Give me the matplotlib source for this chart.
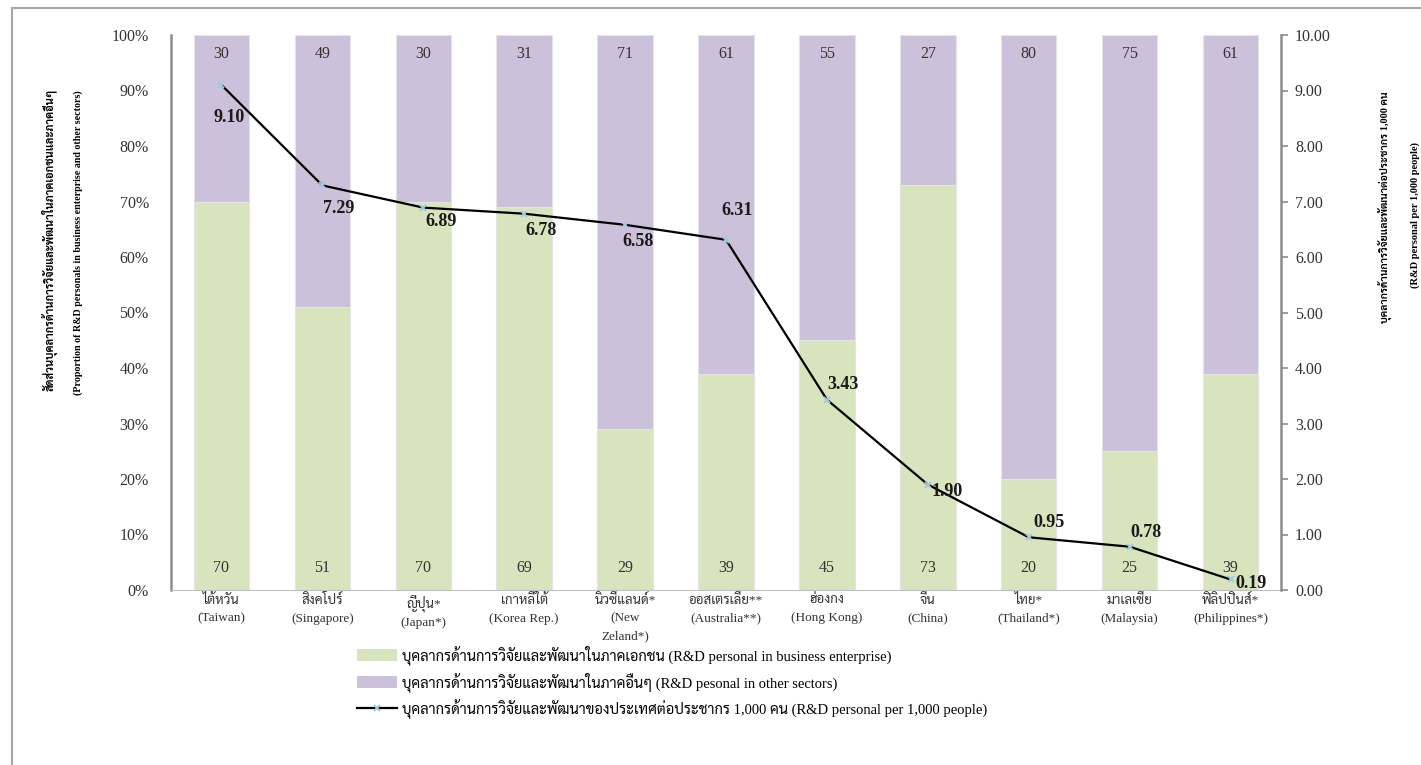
import numpy as np
import matplotlib
matplotlib.use('Agg')
import matplotlib.pyplot as plt
from matplotlib.patches import Patch
from matplotlib.lines import Line2D

plt.rcParams['font.family'] = ['Liberation Serif', 'Sarabun', 'Noto Serif Thai', 'Noto Sans Thai', 'Athiti', 'DejaVu Sans']

paises = ['ไต้หวัน\n(Taiwan)', 'สิงคโปร์\n(Singapore)', 'ญี่ปุ่น*\n(Japan*)', 'เกาหลีใต้\n(Korea Rep.)',
          'นิวซีแลนด์*\n(New\nZeland*)', 'ออสเตรเลีย**\n(Australia**)', 'ฮ่องกง\n(Hong Kong)', 'จีน\n(China)',
          'ไทย*\n(Thailand*)', 'มาเลเซีย\n(Malaysia)', 'ฟิลิปปินส์*\n(Philippines*)']
privado = [70, 51, 70, 69, 29, 39, 45, 73, 20, 25, 39]
otros = [30, 49, 30, 31, 71, 61, 55, 27, 80, 75, 61]
por_mil = [9.10, 7.29, 6.89, 6.78, 6.58, 6.31, 3.43, 1.90, 0.95, 0.78, 0.19]

# desplazamiento de las etiquetas de la linea (pixeles)
offsets = [(8, -33), (16, -23), (18, -14), (17, -17), (13, -17), (11, 29),
           (16, 15), (19, -7), (20, 15), (16, 14), (20, -4)]

verde = '#d7e4bd'
morado = '#ccc1da'

fig = plt.figure(figsize=(14.21, 7.65), dpi=100)
ax = fig.add_axes([171/1421, 1 - 590/765, (1281 - 171)/1421, (590 - 35)/765])
ax2 = ax.twinx()

x = np.arange(len(paises))
ax.bar(x, privado, width=0.55, color=verde, edgecolor='#e4e4e4', linewidth=0.8, zorder=2)
ax.bar(x, otros, width=0.55, bottom=privado, color=morado, edgecolor='#e4e4e4', linewidth=0.8, zorder=2)

for i in range(len(paises)):
    ax.text(x[i], 0.965, str(otros[i]), transform=ax.get_xaxis_transform(),
            ha='center', va='center', fontsize=11.5, color='#333333')
    ax.text(x[i], 0.04, str(privado[i]), transform=ax.get_xaxis_transform(),
            ha='center', va='center', fontsize=11.5, color='#333333')

ax.set_xlim(-0.5, len(paises) - 0.5)
ax.set_ylim(0, 100)
ax.set_yticks(np.arange(0, 101, 10))
ax.set_yticklabels(['%d%%' % v for v in range(0, 101, 10)])
ax.tick_params(axis='y', length=0, pad=16, labelsize=11.5, labelcolor='#333333')
ax.set_xticks(x)
ax.set_xticklabels(paises, fontsize=9.5, linespacing=1.6, color='#333333')
ax.tick_params(axis='x', length=0, pad=3)
ax.spines['top'].set_visible(False)
ax.spines['right'].set_visible(False)
ax.spines['left'].set_color('#8c8c8c')
ax.spines['left'].set_linewidth(1.8)
ax.spines['bottom'].set_color('#bfbfbf')

ax2.plot(x, por_mil, color='black', linewidth=1.6, marker='x', markersize=5,
         markeredgecolor='#a6c8e0', markeredgewidth=1.4, zorder=3)
for i in range(len(paises)):
    ax2.annotate('%.2f' % por_mil[i], (x[i], por_mil[i]), xytext=offsets[i],
                 textcoords='offset pixels', ha='center', va='center',
                 fontsize=13, fontweight='bold', color='#1a1a1a')
ax2.set_ylim(0, 10)
ax2.set_yticks(np.arange(0, 11, 1))
ax2.set_yticklabels(['%.2f' % v for v in range(0, 11)])
ax2.tick_params(axis='y', length=5, width=1.2, color='#8c8c8c', pad=5, labelsize=11.5, labelcolor='#333333')
for s in ['top', 'left', 'bottom']:
    ax2.spines[s].set_visible(False)
ax2.spines['right'].set_color('#8c8c8c')
ax2.spines['right'].set_linewidth(1.8)

# titulos de ejes
fig.text(50/1421, 1 - 240/765, 'สัดส่วนบุคลากรด้านการวิจัยและพัฒนาในภาคเอกชนและภาคอื่นๆ',
         rotation=90, ha='center', va='center', fontsize=8, fontweight='bold')
fig.text(78/1421, 1 - 243/765, '(Proportion of R&D personals in business enterprise and other sectors)',
         rotation=90, ha='center', va='center', fontsize=7.2, fontweight='bold')
fig.text(1386/1421, 1 - 207/765, 'บุคลากรด้านการวิจัยและพัฒนาต่อประชากร 1,000 คน',
         rotation=90, ha='center', va='center', fontsize=7.5, fontweight='bold')
fig.text(1415/1421, 1 - 215/765, '(R&D personal per 1,000 people)',
         rotation=90, ha='center', va='center', fontsize=7.5, fontweight='bold')

handles = [Patch(facecolor=verde, edgecolor='none'),
           Patch(facecolor=morado, edgecolor='none'),
           Line2D([0], [0], color='black', linewidth=1.6, marker='x', markersize=5,
                  markeredgecolor='#a6c8e0', markeredgewidth=1.4)]
labels = ['บุคลากรด้านการวิจัยและพัฒนาในภาคเอกชน (R&D personal in business enterprise)',
          'บุคลากรด้านการวิจัยและพัฒนาในภาคอื่นๆ (R&D pesonal in other sectors)',
          'บุคลากรด้านการวิจัยและพัฒนาของประเทศต่อประชากร 1,000 คน (R&D personal per 1,000 people)']
fig.legend(handles, labels, loc='upper left', bbox_to_anchor=(344/1421, 1 - 632/765),
           frameon=False, fontsize=10.5, handlelength=2.7, handleheight=0.9,
           labelspacing=0.5, handletextpad=0.4)

# marco del grafico
fig.add_artist(Line2D([12/1421, 12/1421], [0, 1 - 8/765], color='#a6a6a6', linewidth=1.5))
fig.add_artist(Line2D([12/1421, 1], [1 - 8/765, 1 - 8/765], color='#a6a6a6', linewidth=1.5))

fig.savefig('out.png', dpi=100)
